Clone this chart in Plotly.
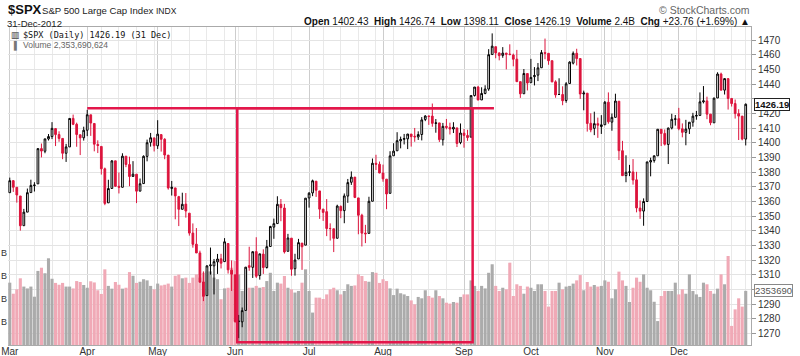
import pandas as pd
import plotly.graph_objects as go

# ---------------- data ----------------
holidays = ["2012-04-06", "2012-05-28", "2012-07-04", "2012-09-03",
            "2012-10-29", "2012-10-30", "2012-11-22", "2012-12-25"]
dates = [d for d in pd.bdate_range("2012-03-01", "2012-12-31")
         if d.strftime("%Y-%m-%d") not in holidays]

prev_close = 1365.68  # close before the first bar

opens = [
    # Mar
    1365.90, 1374.09, 1369.59, 1363.63, 1343.39, 1352.65, 1365.97, 1370.78, 1371.92, 1395.95, 1394.17,
    1402.55, 1404.17, 1409.59, 1405.52, 1402.89, 1392.78, 1397.11, 1416.55, 1412.52, 1405.39, 1403.31,
    # Apr
    1408.47, 1418.98, 1413.09, 1398.79, 1397.45, 1382.18, 1358.98, 1368.77, 1387.61, 1370.27,
    1369.57, 1390.78, 1385.08, 1376.96, 1378.53, 1366.97, 1372.11, 1390.64, 1400.19, 1403.26,
    # May
    1397.86, 1405.50, 1402.32, 1391.51, 1368.79, 1369.16, 1363.20, 1354.58, 1358.11, 1351.93, 1338.36,
    1330.78, 1324.82, 1305.05, 1295.73, 1316.09, 1316.02, 1318.72, 1320.81, 1318.90, 1331.25, 1313.09,
    # Jun
    1309.87, 1278.29, 1277.82, 1285.61, 1316.15, 1314.99, 1325.72, 1309.40, 1324.02, 1314.88, 1329.19,
    1342.42, 1344.83, 1357.98, 1355.43, 1325.92, 1334.90, 1314.09, 1320.71, 1331.52, 1330.12,
    # Jul
    1362.33, 1365.75, 1373.72, 1367.09, 1354.66, 1352.96, 1341.40, 1341.29, 1334.81, 1356.50, 1353.68,
    1363.58, 1373.01, 1376.51, 1362.34, 1350.52, 1338.35, 1338.17, 1360.05, 1385.94, 1385.27,
    # Aug
    1379.32, 1375.13, 1365.45, 1391.04, 1394.46, 1401.23, 1402.26, 1402.58, 1405.87, 1404.36, 1403.89, 1405.57,
    1415.84, 1417.85, 1418.13, 1413.09, 1413.49, 1401.99, 1411.13, 1410.44, 1409.32, 1410.08, 1400.07,
    # Sep
    1406.54, 1404.94, 1403.74, 1432.12, 1437.92, 1429.13, 1433.56, 1436.56, 1460.07, 1465.42,
    1461.19, 1459.50, 1461.05, 1460.34, 1459.76, 1456.94, 1441.60, 1433.36, 1447.13,
    # Oct
    1440.90, 1444.99, 1446.05, 1451.08, 1461.40, 1460.93, 1455.90, 1441.48, 1432.82, 1432.84, 1428.75,
    1440.31, 1454.22, 1460.94, 1457.34, 1433.21, 1433.74, 1413.20, 1409.74, 1412.97, 1410.99,
    # Nov
    1412.20, 1427.59, 1414.02, 1417.26, 1428.27, 1394.53, 1377.55, 1379.86, 1380.03, 1374.64, 1355.41,
    1353.36, 1359.88, 1386.82, 1387.79, 1391.03, 1409.15, 1406.29, 1398.77, 1409.96, 1415.95,
    # Dec
    1416.34, 1409.46, 1407.05, 1409.43, 1413.95, 1418.07, 1418.55, 1427.84, 1428.48, 1419.45,
    1413.54, 1430.47, 1446.79, 1435.81, 1443.67, 1430.15, 1426.66, 1419.83, 1418.10, 1402.43,
]

highs = [
    # Mar
    1376.17, 1374.53, 1369.59, 1363.63, 1354.85, 1368.72, 1374.76, 1373.04, 1396.13, 1399.42, 1402.63,
    1405.88, 1414.00, 1409.59, 1407.75, 1402.89, 1399.18, 1416.58, 1419.15, 1413.65, 1405.39, 1410.89,
    # Apr
    1422.38, 1419.00, 1413.09, 1401.60, 1397.45, 1383.01, 1374.71, 1388.13, 1387.61, 1379.66,
    1392.76, 1390.78, 1390.46, 1387.40, 1378.53, 1375.57, 1391.37, 1402.09, 1406.64, 1403.26,
    # May
    1415.32, 1405.50, 1403.07, 1391.51, 1373.91, 1369.16, 1363.73, 1365.88, 1365.66, 1351.93, 1344.94,
    1341.78, 1326.36, 1312.24, 1316.39, 1328.49, 1320.71, 1324.14, 1324.20, 1334.93, 1331.25, 1319.74,
    # Jun
    1309.87, 1282.55, 1287.62, 1315.13, 1329.05, 1325.81, 1335.52, 1324.31, 1327.28, 1333.68, 1343.32,
    1348.22, 1363.46, 1361.57, 1358.27, 1337.82, 1334.90, 1324.24, 1334.40, 1331.52, 1362.17,
    # Jul
    1366.35, 1374.81, 1373.85, 1367.09, 1354.87, 1361.54, 1345.00, 1341.29, 1357.70, 1357.26, 1365.36,
    1375.26, 1380.39, 1376.51, 1362.34, 1351.53, 1343.98, 1363.13, 1389.19, 1391.74, 1387.16,
    # Aug
    1385.03, 1375.13, 1394.16, 1399.63, 1407.14, 1404.14, 1405.95, 1405.98, 1405.87, 1410.03, 1407.73, 1417.44,
    1418.71, 1418.13, 1426.68, 1416.12, 1413.49, 1413.46, 1416.17, 1413.63, 1413.95, 1410.08, 1413.09,
    # Sep
    1409.31, 1408.81, 1432.12, 1437.92, 1438.74, 1437.76, 1439.15, 1463.76, 1474.51, 1465.63,
    1461.47, 1465.15, 1461.23, 1467.07, 1460.72, 1463.24, 1441.60, 1450.20, 1447.13,
    # Oct
    1457.14, 1451.52, 1454.30, 1463.14, 1470.96, 1460.93, 1455.90, 1442.52, 1443.90, 1438.43, 1441.31,
    1455.51, 1462.20, 1464.02, 1457.34, 1435.46, 1433.74, 1420.04, 1421.12, 1417.09, 1418.76,
    # Nov
    1428.35, 1434.27, 1419.90, 1433.38, 1428.27, 1401.23, 1391.39, 1384.87, 1388.81, 1380.13, 1360.62,
    1362.03, 1386.89, 1389.77, 1391.25, 1409.16, 1409.15, 1409.01, 1410.31, 1419.70, 1418.86,
    # Dec
    1423.73, 1413.14, 1415.56, 1413.95, 1420.34, 1421.64, 1434.27, 1438.59, 1431.36, 1419.45,
    1430.67, 1448.00, 1447.75, 1443.70, 1443.67, 1430.15, 1429.42, 1422.80, 1418.10, 1426.74,
]

lows = [
    # Mar
    1365.90, 1366.42, 1359.13, 1340.03, 1343.39, 1352.65, 1365.97, 1366.69, 1371.92, 1389.97, 1392.78,
    1401.47, 1402.43, 1397.68, 1400.64, 1388.73, 1386.87, 1397.11, 1411.95, 1397.20, 1391.56, 1401.42,
    # Apr
    1404.46, 1404.62, 1394.09, 1392.92, 1378.24, 1357.38, 1358.98, 1368.77, 1369.85, 1365.38,
    1369.57, 1383.29, 1370.30, 1376.96, 1358.79, 1366.82, 1372.11, 1387.28, 1397.31, 1394.00,
    # May
    1395.73, 1393.92, 1388.71, 1367.96, 1363.94, 1347.75, 1343.13, 1354.58, 1348.89, 1336.61, 1328.41,
    1324.79, 1304.86, 1291.98, 1295.73, 1310.04, 1296.53, 1310.50, 1314.23, 1318.90, 1310.76, 1298.90,
    # Jun
    1277.25, 1266.74, 1274.16, 1285.61, 1312.68, 1307.77, 1307.73, 1306.62, 1310.51, 1314.14, 1329.19,
    1334.46, 1344.83, 1346.45, 1324.41, 1325.92, 1309.27, 1309.34, 1320.71, 1313.29, 1330.12,
    # Jul
    1355.70, 1363.53, 1363.02, 1348.03, 1346.65, 1336.27, 1333.25, 1325.41, 1334.81, 1348.51, 1345.07,
    1358.96, 1371.21, 1362.19, 1337.56, 1329.24, 1331.50, 1338.17, 1360.05, 1381.37, 1379.17,
    # Aug
    1373.35, 1354.65, 1365.45, 1391.04, 1394.46, 1396.13, 1398.80, 1395.62, 1397.32, 1400.60, 1401.83, 1401.53,
    1414.67, 1412.12, 1410.86, 1406.78, 1400.50, 1398.04, 1409.11, 1405.59, 1406.57, 1397.01, 1398.96,
    # Sep
    1396.56, 1401.25, 1403.74, 1431.45, 1428.98, 1429.13, 1432.99, 1435.34, 1460.07, 1457.55,
    1456.13, 1457.88, 1449.98, 1459.51, 1452.06, 1441.59, 1430.53, 1433.36, 1435.60,
    # Oct
    1440.90, 1439.01, 1441.99, 1451.08, 1456.89, 1453.10, 1441.18, 1430.64, 1432.82, 1425.53, 1427.24,
    1440.31, 1453.35, 1452.63, 1429.85, 1422.06, 1407.56, 1407.10, 1405.14, 1403.28, 1405.95,
    # Nov
    1412.20, 1412.91, 1408.13, 1417.26, 1388.14, 1377.51, 1373.03, 1377.19, 1371.39, 1352.50, 1348.05,
    1343.35, 1359.88, 1377.04, 1386.39, 1391.03, 1397.68, 1398.03, 1385.43, 1409.04, 1411.63,
    # Dec
    1408.46, 1403.65, 1398.23, 1405.93, 1410.90, 1415.64, 1418.55, 1426.76, 1416.00, 1411.88,
    1413.54, 1430.47, 1435.80, 1432.82, 1422.58, 1424.66, 1416.43, 1401.80, 1401.58, 1398.11,
]

closes = [
    # Mar
    1374.09, 1369.63, 1364.33, 1343.36, 1352.63, 1365.91, 1370.87, 1371.09, 1395.95, 1394.28, 1402.60,
    1404.17, 1409.75, 1405.52, 1402.89, 1392.78, 1397.11, 1416.51, 1412.52, 1405.54, 1403.28, 1408.47,
    # Apr
    1419.04, 1413.38, 1398.96, 1398.08, 1382.20, 1358.59, 1368.71, 1387.57, 1370.26, 1369.57,
    1390.78, 1385.14, 1376.92, 1378.53, 1366.94, 1371.97, 1390.69, 1399.98, 1403.36, 1397.91,
    # May
    1405.82, 1402.31, 1391.57, 1369.10, 1369.58, 1363.72, 1354.58, 1357.99, 1353.39, 1338.35, 1330.66,
    1324.80, 1304.86, 1295.22, 1315.99, 1316.63, 1318.86, 1320.68, 1317.82, 1332.42, 1313.32, 1310.33,
    # Jun
    1278.04, 1278.18, 1285.50, 1315.13, 1314.99, 1325.66, 1308.93, 1324.18, 1314.88, 1329.10, 1342.84,
    1344.78, 1357.98, 1355.69, 1325.51, 1335.02, 1313.72, 1319.99, 1331.85, 1329.04, 1362.16,
    # Jul
    1365.51, 1374.02, 1367.58, 1354.68, 1352.46, 1341.47, 1341.45, 1334.76, 1356.78, 1353.64, 1363.67,
    1372.78, 1376.51, 1362.66, 1350.52, 1338.31, 1337.89, 1360.02, 1385.97, 1385.30, 1379.32,
    # Aug
    1375.32, 1365.00, 1390.99, 1394.23, 1401.35, 1402.22, 1402.80, 1405.87, 1404.11, 1403.93, 1405.53, 1415.51,
    1418.16, 1418.13, 1413.17, 1413.49, 1402.08, 1411.13, 1410.44, 1409.30, 1410.49, 1399.48, 1406.58,
    # Sep
    1404.94, 1403.44, 1432.12, 1437.92, 1429.08, 1433.56, 1436.56, 1459.99, 1465.77, 1461.19,
    1459.32, 1461.05, 1460.26, 1460.15, 1456.89, 1441.59, 1433.32, 1447.15, 1440.67,
    # Oct
    1444.49, 1445.75, 1450.99, 1461.40, 1460.93, 1455.88, 1441.48, 1432.56, 1432.84, 1428.59, 1440.13,
    1454.92, 1460.91, 1457.34, 1433.19, 1433.82, 1413.11, 1408.75, 1412.97, 1411.94, 1412.16,
    # Nov
    1427.59, 1414.20, 1417.26, 1428.39, 1394.53, 1377.51, 1379.85, 1380.03, 1374.53, 1355.49, 1353.33,
    1359.88, 1386.89, 1387.81, 1391.03, 1409.15, 1406.29, 1398.94, 1409.93, 1415.95, 1416.18,
    # Dec
    1409.46, 1407.05, 1409.28, 1413.94, 1418.07, 1418.55, 1427.84, 1428.48, 1419.45, 1413.58,
    1430.36, 1446.79, 1435.81, 1443.69, 1430.15, 1426.66, 1419.83, 1418.10, 1402.43, 1426.19,
]

# volume, billions of shares
volumes_b = [
    # Mar
    2.71, 2.23, 2.42, 2.90, 2.54, 2.46, 2.54, 2.10, 3.22, 3.36, 3.12,
    3.77, 2.88, 2.70, 2.62, 2.70, 2.54, 2.54, 2.46, 2.78, 2.74, 2.61,
    # Apr
    2.49, 2.77, 2.72, 2.38, 2.22, 3.29, 2.57, 2.45, 2.74, 2.62,
    2.45, 2.49, 3.17, 3.01, 2.70, 2.75, 2.86, 2.81, 2.57, 2.42,
    # May
    2.67, 2.59, 2.62, 2.67, 2.54, 3.01, 3.06, 2.90, 2.93, 2.70, 2.93,
    3.07, 2.93, 3.14, 3.20, 3.20, 2.93, 2.86, 1.99, 2.46, 2.49, 3.36,
    # Jun
    3.65, 3.07, 2.35, 3.29, 2.49, 2.49, 2.57, 2.49, 2.52, 2.78, 3.14,
    2.35, 2.71, 2.67, 3.00, 2.49, 2.42, 2.28, 2.35, 2.71, 3.29,
    # Jul
    2.35, 1.41, 2.06, 2.06, 2.00, 2.20, 2.42, 2.49, 2.38, 2.20, 2.35,
    2.64, 2.57, 2.59, 3.07, 3.00, 2.78, 2.75, 3.17, 3.14, 2.70,
    # Aug
    2.86, 2.78, 2.46, 2.17, 2.45, 2.25, 2.20, 2.13, 1.94, 1.77, 2.09, 2.03,
    2.38, 2.13, 2.06, 2.38, 2.13, 2.03, 1.84, 1.80, 1.87, 1.84, 2.09,
    # Sep
    2.20, 2.20, 2.81, 2.57, 2.35, 2.57, 2.46, 3.14, 3.51, 2.57,
    2.35, 2.49, 2.42, 3.58, 2.13, 2.64, 2.57, 2.23, 2.54,
    # Oct
    2.49, 2.35, 2.64, 2.64, 2.35, 1.67, 2.35, 2.35, 2.71, 2.42, 2.54,
    2.57, 2.67, 2.81, 3.04, 2.38, 2.74, 2.54, 2.61, 2.54, 2.57,
    # Nov
    2.81, 2.75, 2.03, 2.42, 3.19, 2.81, 2.57, 1.87, 2.49, 2.93, 2.75,
    3.07, 2.49, 2.38, 1.88, 1.04, 2.13, 2.35, 2.35, 2.35, 2.71,
    # Dec
    2.20, 2.42, 2.23, 3.07, 2.35, 2.20, 2.09, 2.71, 2.64, 2.35,
    2.23, 2.45, 3.07, 2.64, 3.87, 0.83, 1.55, 2.03, 1.67, 2.354,
]
last_volume = 2353690624

month_names = ["Mar", "Apr", "May", "Jun", "Jul", "Aug", "Sep", "Oct", "Nov", "Dec"]
price_ticks = [1270, 1280, 1290, 1310, 1320, 1330, 1340, 1350, 1360, 1370, 1380,
               1390, 1400, 1410, 1420, 1440, 1450, 1460, 1470]  # 1300 / 1430 hidden under tags
resistance_level = 1423.5
box_bottom = 1264.0

n = len(dates)
assert len(opens) == len(highs) == len(lows) == len(closes) == len(volumes_b) == n

# ---------------- derived ----------------
idx = list(range(n))
date_str = [d.strftime("%Y-%m-%d") for d in dates]
pos = {s: i for i, s in enumerate(date_str)}
up = [closes[i] >= (closes[i - 1] if i else prev_close) for i in idx]

month_idx = [i for i in idx if i == 0 or dates[i].month != dates[i - 1].month]
week_idx = [i for i in idx if i > 0 and (dates[i].weekday() < dates[i - 1].weekday()
                                         or (dates[i] - dates[i - 1]).days > 3)]

RED = "#DC143C"
SHAPE_RED = "#E3174B"
GRAY_VOL = "#ABABAB"
PINK_VOL = "#F0A9B6"

L, R, T, B = 8, 49, 27, 11
W, H = 800 - L - R, 356 - T - B


def px(xp):
    return (xp - L) / W


def py(yp):
    return 1 - (yp - T) / H


fig = go.Figure()

fig.add_trace(go.Bar(
    x=idx, y=volumes_b, yaxis="y",
    marker=dict(color=[GRAY_VOL if u else PINK_VOL for u in up], line=dict(width=0)),
    hoverinfo="skip",
))

blk = [i for i in idx if up[i]]
rd = [i for i in idx if not up[i]]


def sub(arr, ids):
    return [arr[i] for i in ids]


fig.add_trace(go.Candlestick(
    x=blk, open=sub(opens, blk), high=sub(highs, blk), low=sub(lows, blk), close=sub(closes, blk),
    yaxis="y2", whiskerwidth=0,
    increasing=dict(line=dict(color="black", width=1), fillcolor="white"),
    decreasing=dict(line=dict(color="black", width=1), fillcolor="black"),
))
fig.add_trace(go.Candlestick(
    x=rd, open=sub(opens, rd), high=sub(highs, rd), low=sub(lows, rd), close=sub(closes, rd),
    yaxis="y2", whiskerwidth=0,
    increasing=dict(line=dict(color=RED, width=1), fillcolor="white"),
    decreasing=dict(line=dict(color=RED, width=1), fillcolor=RED),
))

# annotation shapes
fig.add_shape(type="line", xref="x", yref="y2",
              x0=pos["2012-04-02"], x1=pos["2012-09-14"] + 0.5,
              y0=resistance_level, y1=resistance_level,
              line=dict(color=SHAPE_RED, width=2.5))
fig.add_shape(type="rect", xref="x", yref="y2",
              x0=pos["2012-06-04"] - 0.4, x1=pos["2012-09-06"] + 0.45,
              y0=box_bottom, y1=resistance_level,
              line=dict(color=SHAPE_RED, width=2.5))

FONT = "Liberation Sans, Arial, sans-serif"
fig.update_layout(
    width=800, height=356,
    margin=dict(l=L, r=R, t=T, b=B, autoexpand=False),
    paper_bgcolor="white", plot_bgcolor="white",
    showlegend=False, boxgap=0.3, bargap=0.12,
    font=dict(family=FONT, size=11, color="#333333"),
    xaxis=dict(
        range=[-0.5, n + 0.5], tickmode="array", tickvals=month_idx, ticktext=month_names,
        showgrid=True, gridcolor="#CDCDCD", gridwidth=1, zeroline=False, automargin=False,
        minor=dict(tickmode="array", tickvals=week_idx, showgrid=True, gridcolor="#E9E9E9", gridwidth=1),
        showline=True, linecolor="#AAAAAA", mirror=True, ticks="",
        tickfont=dict(size=10, color="#333"), rangeslider=dict(visible=False),
    ),
    yaxis=dict(
        range=[0, H / 23.0], tickmode="array", tickvals=[1, 2, 3, 4], ticktext=["B"] * 4,
        showgrid=False, zeroline=False, side="left", ticks="", automargin=False,
        tickfont=dict(size=9, color="#333"), showline=False,
    ),
    yaxis2=dict(
        overlaying="y", side="right", automargin=False,
        range=[1470 - (H - 13) / 1.4667, 1470 + 13 / 1.4667],
        tickmode="array", tickvals=price_ticks,
        showgrid=True, gridcolor="#E4E4E4", zeroline=False,
        minor=dict(tickmode="linear", tick0=1270, dtick=10, showgrid=True, gridcolor="#E4E4E4",
                   ticks="outside", ticklen=4, tickcolor="#999999"),
        ticks="outside", ticklen=4, tickcolor="#999999", showline=True, linecolor="#AAAAAA",
        tickfont=dict(size=10, color="#333"),
    ),
)
try:
    fig.update_xaxes(ticklabelstandoff=-3)
except Exception:
    pass

o, h, l, c = opens[-1], highs[-1], lows[-1], closes[-1]
chg = c - closes[-2]
chg_pct = chg / closes[-2] * 100

ann = []
ann.append(dict(x=px(6), y=py(10), xref="paper", yref="paper", xanchor="left", yanchor="middle",
                text="<b>$SPX</b>", font=dict(size=13, color="#111", family=FONT), showarrow=False))
ann.append(dict(x=px(40), y=py(10.5), xref="paper", yref="paper", xanchor="left", yanchor="middle",
                text="S&P 500 Large Cap Index", font=dict(size=9.6, color="#222", family=FONT), showarrow=False))
ann.append(dict(x=px(154), y=py(11), xref="paper", yref="paper", xanchor="left", yanchor="middle",
                text="INDX", font=dict(size=8.5, color="#222", family=FONT), showarrow=False))
ann.append(dict(x=px(5), y=py(23), xref="paper", yref="paper", xanchor="left", yanchor="middle",
                text=dates[-1].strftime("%d-%b-%Y"), font=dict(size=9.5, color="#222", family=FONT),
                showarrow=False))
ann.append(dict(x=px(752), y=py(10), xref="paper", yref="paper", xanchor="right", yanchor="middle",
                text="\u00a9 StockCharts.com", font=dict(size=10.5, color="#666", family=FONT),
                showarrow=False))
hdr = (f"<b>Open</b> {o:.2f}  <b>High</b> {h:.2f}  <b>Low</b> {l:.2f}  <b>Close</b> {c:.2f}  "
       f"<b>Volume</b> {last_volume / 1e9:.1f}B  <b>Chg</b> {chg:+.2f} ({chg_pct:+.2f}%) \u25b2")
ann.append(dict(x=px(752), y=py(22), xref="paper", yref="paper", xanchor="right", yanchor="middle",
                text=hdr, font=dict(size=10, color="#111", family=FONT), showarrow=False))
ann.append(dict(x=px(21), y=py(35), xref="paper", yref="paper", xanchor="left", yanchor="middle",
                text=f"$SPX (Daily) {c:.2f} ({dates[-1].strftime('%d %b')})",
                font=dict(size=8.5, color="#111", family="DejaVu Sans Mono, monospace"), showarrow=False))
ann.append(dict(x=px(21), y=py(45), xref="paper", yref="paper", xanchor="left", yanchor="middle",
                text=f"Volume {last_volume:,}",
                font=dict(size=8.5, color="#666", family=FONT), showarrow=False))
ann.append(dict(x=px(9), y=py(35), xref="paper", yref="paper", xanchor="left", yanchor="middle",
                text="\u25a5", font=dict(size=9, color="#333"), showarrow=False))
ann.append(dict(x=px(9), y=py(45), xref="paper", yref="paper", xanchor="left", yanchor="middle",
                text="\u2590", font=dict(size=8, color="#777"), showarrow=False))
# last value tags on the right axis
ann.append(dict(x=1, y=c, xref="paper", yref="y2", xanchor="left", yanchor="middle", xshift=3,
                text=f"<b>{c:.2f}</b>", font=dict(size=9.5, color="#111", family=FONT),
                bgcolor="white", bordercolor="#222", borderwidth=1, borderpad=0, showarrow=False))
ann.append(dict(x=1, y=volumes_b[-1], xref="paper", yref="y", xanchor="left", yanchor="middle", xshift=3,
                text=str(last_volume)[:7], font=dict(size=9.5, color="#555", family=FONT),
                bgcolor="white", bordercolor="#888", borderwidth=1, borderpad=0, showarrow=False))
fig.update_layout(annotations=ann)

fig.write_html("out.html", config={"displayModeBar": False},
               post_script="document.body.style.margin='0px';document.body.style.padding='0px';")
